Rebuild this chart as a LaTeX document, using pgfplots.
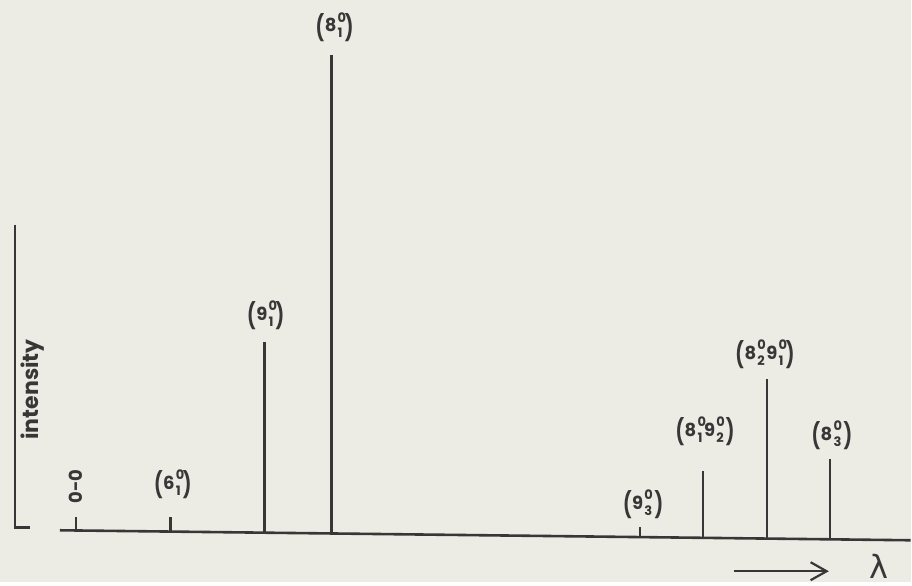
\documentclass[border=0pt]{standalone}
\usepackage{pgfplots}
\pgfplotsset{compat=1.18}
\usetikzlibrary{arrows.meta}
\usepackage{graphicx}
\usepackage{fontspec}
\setmainfont{Poppins}
\newfontfamily\djfont{DejaVu Sans}
\definecolor{paper}{RGB}{236,235,228}
\definecolor{ink}{RGB}{55,55,55}
\newcommand\pl{\raisebox{-0.45ex}{\scalebox{1}[1.4]{(}}\kern0.3pt}
\newcommand\pr{\kern0.3pt\raisebox{-0.45ex}{\scalebox{1}[1.4]{)}}}
\newcommand\vv[3]{#1\kern0.6pt\makebox[0pt][l]{\raisebox{0.95ex}{\fontsize{6.5}{7}\selectfont#2}}\raisebox{-0.6ex}{\fontsize{6.5}{7}\selectfont#3}\kern0.8pt}
\begin{document}
\begin{tikzpicture}
\begin{axis}[
  scale only axis, width=456pt, height=291.5pt,
  xmin=0, xmax=912, ymin=0, ymax=583, y dir=reverse,
  hide axis, clip=false,
  axis background/.style={fill=paper},
]
\addplot[draw=none, forget plot] coordinates {(0,0) (912,583)};
% baseline (pixel coordinates, slightly skewed as in the scan)
\addplot[ink, line width=1.3pt] coordinates {(60,531) (912,541)};
% sticks: x, base, top
\addplot[ink, line width=1.3pt] coordinates {(76,531) (76,518)};
\addplot[ink, line width=1.3pt] coordinates {(171,532) (171,518)};
\addplot[ink, line width=1.3pt] coordinates {(265,534) (265,342)};
\addplot[ink, line width=1.3pt] coordinates {(332,534) (332,55)};
\addplot[ink, line width=1.3pt] coordinates {(641,539) (641,528)};
\addplot[ink, line width=1.3pt] coordinates {(704,539) (704,472)};
\addplot[ink, line width=1.3pt] coordinates {(768,540) (768,380)};
\addplot[ink, line width=1.3pt] coordinates {(831,540) (831,460)};
% intensity axis
\draw[ink, line width=1.3pt] (axis cs:15,225) -- (axis cs:15,528) -- (axis cs:30,528);
\draw[ink, line width=1.1pt, -{Straight Barb[length=8pt,width=9pt]}] (axis cs:735,572) -- (axis cs:830,572);
\node[ink] at (axis cs:880,567) {\djfont\fontsize{16}{18}\selectfont λ};
\node[ink, rotate=90] at (axis cs:33,390) {\fontsize{11}{12}\selectfont\bfseries intensity};
\begin{scope}[every node/.style={ink, inner sep=0pt, font=\fontsize{9}{11}\selectfont\bfseries}]
\node[rotate=90] at (axis cs:76,487) {0-0};
\node at (axis cs:173,485) {\pl\vv{6}{0}{1}\pr};
\node at (axis cs:266,316) {\pl\vv{9}{0}{1}\pr};
\node at (axis cs:335,27) {\pl\vv{8}{0}{1}\pr};
\node at (axis cs:644,505) {\pl\vv{9}{0}{3}\pr};
\node at (axis cs:706,432) {\pl\vv{8}{0}{1}\vv{9}{0}{2}\pr};
\node at (axis cs:766,355) {\pl\vv{8}{0}{2}\vv{9}{0}{1}\pr};
\node at (axis cs:833,436) {\pl\vv{8}{0}{3}\pr};
\end{scope}
\end{axis}
\end{tikzpicture}
\end{document}
